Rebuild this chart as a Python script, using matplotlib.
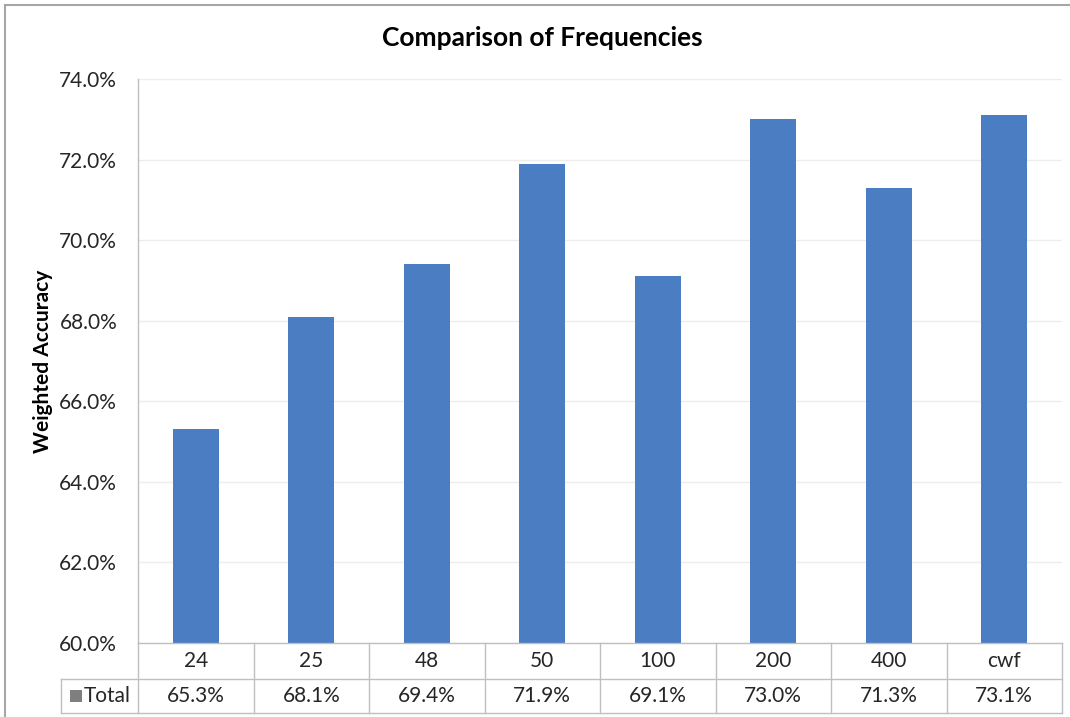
import matplotlib
matplotlib.use("Agg")
import matplotlib.pyplot as plt
from matplotlib.lines import Line2D
from matplotlib.patches import Rectangle
from matplotlib.ticker import FuncFormatter, MultipleLocator

# Chart data
categories = ["24", "25", "48", "50", "100", "200", "400", "cwf"]
accuracy = [65.3, 68.1, 69.4, 71.9, 69.1, 73.0, 71.3, 73.1]
series_name = "Total"
title = "Comparison of Frequencies"
y_label = "Weighted Accuracy"

bar_color = "#4A7DC2"
line_color = "#BFBFBF"
text_color = "#262626"
font = ["Lato", "DejaVu Sans"]

W, H = 1070, 717
fig = plt.figure(figsize=(W / 100, H / 100), dpi=100)

# Plot area in pixel terms
ax_left, ax_right, ax_top, ax_bottom = 138, 1062, 79, 643
ax_w = ax_right - ax_left
ax_h = ax_bottom - ax_top
ax = fig.add_axes([ax_left / W, 1 - ax_bottom / H, ax_w / W, ax_h / H])

x = list(range(len(categories)))
ax.bar(x, accuracy, width=0.40, color=bar_color, zorder=3)

ax.set_xlim(-0.5, len(categories) - 0.5)
ax.set_ylim(60, 74)
ax.yaxis.set_major_locator(MultipleLocator(2))
ax.yaxis.set_major_formatter(FuncFormatter(lambda v, _: f"{v:.1f}%"))
ax.tick_params(axis="y", length=0, pad=15, labelsize=15, labelcolor=text_color)
for lbl in ax.get_yticklabels():
    lbl.set_family(font)
ax.set_xticks([])
ax.grid(axis="y", color="#EDEDED", linewidth=1.0, zorder=0)

for side in ("top", "right", "bottom"):
    ax.spines[side].set_visible(False)
ax.spines["left"].set_color(line_color)
ax.spines["left"].set_linewidth(1.0)

fig.text(43 / W, 1 - (ax_top + ax_bottom) / 2 / H, y_label, rotation=90,
         ha="center", va="center", fontsize=15, fontweight="bold",
         family=font, color="black")
fig.text(542 / W, 1 - 38 / H, title, ha="center", va="center", fontsize=19,
         fontweight="bold", family=font, color="black")

# Data table under the plot area, built in axes coordinates
trans = ax.transAxes
n = len(categories)
def ax_x(px):
    return (px - ax_left) / ax_w

def ax_y(py):
    return (ax_bottom - py) / ax_h

y0 = 0.0
y1 = ax_y(679)
y2 = ax_y(713)
left_cell = ax_x(61)

def seg(xs, ys):
    ax.add_line(Line2D(xs, ys, transform=trans, color=line_color,
                       linewidth=1.0, clip_on=False, zorder=4))

seg([0, 1], [y0, y0])
seg([left_cell, 1], [y1, y1])
seg([left_cell, 1], [y2, y2])
seg([left_cell, left_cell], [y1, y2])
for i in range(n + 1):
    xi = i / n
    seg([xi, xi], [y0, y2])

for i, (cat, val) in enumerate(zip(categories, accuracy)):
    xc = (i + 0.5) / n
    ax.text(xc, (y0 + y1) / 2, cat, transform=trans, ha="center", va="center",
            fontsize=15, family=font, color=text_color)
    ax.text(xc, (y1 + y2) / 2, f"{val:.1f}%", transform=trans, ha="center",
            va="center", fontsize=15, family=font, color=text_color)

# Legend key and series name in the first column
key_px = 12
row_mid = (y1 + y2) / 2
ax.add_patch(Rectangle((ax_x(70), row_mid - key_px / 2 / ax_h), key_px / ax_w,
                       key_px / ax_h, transform=trans, facecolor="#7F7F7F",
                       edgecolor="none", clip_on=False))
ax.text(ax_x(84), row_mid, series_name, transform=trans, ha="left",
        va="center", fontsize=15, family=font, color=text_color)

# Chart border on the left and top edges
fig.add_artist(Line2D([5 / W, 5 / W], [0, 1 - 5 / H], transform=fig.transFigure,
                      color="#A6A6A6", linewidth=1.5))
fig.add_artist(Line2D([5 / W, 1], [1 - 5 / H, 1 - 5 / H], transform=fig.transFigure,
                      color="#A6A6A6", linewidth=1.5))

fig.savefig("out.png", dpi=100, facecolor="white")
